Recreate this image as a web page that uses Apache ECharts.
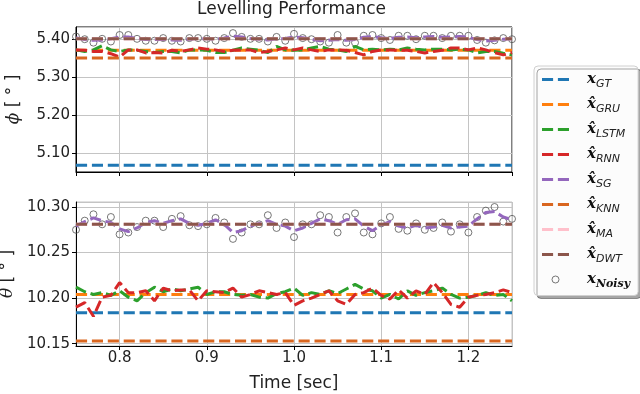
<!DOCTYPE html>
<html>
<head>
<meta charset="utf-8">
<script src="https://cdn.jsdelivr.net/npm/echarts@6/dist/echarts.min.js"></script>
<style>
  html, body { margin: 0; padding: 0; background: #fff; }
  #main { width: 640px; height: 394px; }
</style>
</head>
<body>
<div id="main"></div>
<script>
  // time axis (sec)
  var timeSec = [0.75, 0.76, 0.77, 0.78, 0.79, 0.80, 0.81, 0.82, 0.83, 0.84,
    0.85, 0.86, 0.87, 0.88, 0.89, 0.90, 0.91, 0.92, 0.93, 0.94,
    0.95, 0.96, 0.97, 0.98, 0.99, 1.00, 1.01, 1.02, 1.03, 1.04,
    1.05, 1.06, 1.07, 1.08, 1.09, 1.10, 1.11, 1.12, 1.13, 1.14,
    1.15, 1.16, 1.17, 1.18, 1.19, 1.20, 1.21, 1.22, 1.23, 1.24, 1.25];
  var flatTime = [0.75, 1.25];

  // roll (phi)
  var phiGT = [5.069, 5.069];
  var phiGRU = [5.370, 5.370];
  var phiKNN = [5.350, 5.350];
  var phiMA = [5.400, 5.400];
  var phiDWT = [5.400, 5.400];
  var phiLSTM = [5.371, 5.367, 5.371, 5.382, 5.371, 5.367, 5.371, 5.370, 5.367, 5.364,
    5.367, 5.367, 5.363, 5.371, 5.371, 5.370, 5.364, 5.364, 5.370, 5.376,
    5.373, 5.370, 5.364, 5.380, 5.371, 5.370, 5.371, 5.376, 5.380, 5.373,
    5.371, 5.367, 5.380, 5.371, 5.373, 5.371, 5.373, 5.371, 5.376, 5.373,
    5.371, 5.373, 5.373, 5.371, 5.373, 5.371, 5.363, 5.367, 5.367, 5.362, 5.358];
  var phiRNN = [5.371, 5.370, 5.367, 5.367, 5.361, 5.352, 5.371, 5.371, 5.363, 5.364,
    5.363, 5.370, 5.367, 5.371, 5.376, 5.373, 5.371, 5.367, 5.370, 5.371,
    5.371, 5.364, 5.367, 5.371, 5.376, 5.371, 5.376, 5.371, 5.367, 5.371,
    5.371, 5.370, 5.364, 5.358, 5.367, 5.371, 5.371, 5.370, 5.370, 5.367,
    5.363, 5.367, 5.370, 5.376, 5.376, 5.371, 5.376, 5.371, 5.364, 5.358, 5.364];
  var phiSG = [5.403, 5.398, 5.396, 5.397, 5.400, 5.405, 5.405, 5.401, 5.398, 5.398,
    5.399, 5.397, 5.396, 5.399, 5.401, 5.400, 5.399, 5.402, 5.407, 5.405,
    5.401, 5.399, 5.397, 5.400, 5.401, 5.405, 5.403, 5.399, 5.395, 5.396,
    5.398, 5.396, 5.398, 5.404, 5.406, 5.403, 5.401, 5.404, 5.405, 5.403,
    5.405, 5.406, 5.404, 5.405, 5.406, 5.404, 5.398, 5.394, 5.396, 5.399, 5.400];
  var phiNoisy = [5.406, 5.399, 5.390, 5.400, 5.393, 5.410, 5.410, 5.400, 5.395, 5.395,
    5.402, 5.395, 5.393, 5.402, 5.402, 5.400, 5.395, 5.402, 5.415, 5.405,
    5.400, 5.400, 5.393, 5.405, 5.395, 5.413, 5.402, 5.399, 5.393, 5.390,
    5.410, 5.390, 5.390, 5.408, 5.410, 5.402, 5.397, 5.408, 5.408, 5.399,
    5.408, 5.408, 5.402, 5.408, 5.408, 5.408, 5.397, 5.390, 5.396, 5.402, 5.399];

  // pitch (theta)
  var thetaGT = [10.184, 10.184];
  var thetaGRU = [10.204, 10.204];
  var thetaKNN = [10.153, 10.153];
  var thetaMA = [10.281, 10.281];
  var thetaDWT = [10.281, 10.281];
  var thetaLSTM = [10.212, 10.207, 10.204, 10.206, 10.203, 10.208, 10.201, 10.197, 10.206, 10.212,
    10.207, 10.210, 10.208, 10.210, 10.212, 10.204, 10.207, 10.207, 10.204, 10.203,
    10.204, 10.201, 10.200, 10.205, 10.207, 10.211, 10.203, 10.206, 10.204, 10.208,
    10.205, 10.210, 10.215, 10.210, 10.208, 10.200, 10.204, 10.199, 10.208, 10.203,
    10.206, 10.208, 10.211, 10.204, 10.200, 10.201, 10.203, 10.206, 10.203, 10.204, 10.197];
  var thetaRNN = [10.190, 10.195, 10.180, 10.201, 10.203, 10.217, 10.206, 10.206, 10.208, 10.197,
    10.211, 10.208, 10.209, 10.209, 10.197, 10.208, 10.207, 10.206, 10.211, 10.201,
    10.204, 10.208, 10.206, 10.204, 10.206, 10.192, 10.197, 10.200, 10.204, 10.208,
    10.197, 10.193, 10.204, 10.206, 10.211, 10.203, 10.199, 10.209, 10.200, 10.208,
    10.204, 10.217, 10.206, 10.193, 10.190, 10.201, 10.203, 10.204, 10.206, 10.209, 10.206];
  var thetaSG = [10.279, 10.284, 10.288, 10.285, 10.283, 10.276, 10.273, 10.277, 10.283, 10.285,
    10.282, 10.285, 10.287, 10.282, 10.280, 10.282, 10.286, 10.281, 10.272, 10.274,
    10.279, 10.282, 10.285, 10.281, 10.279, 10.274, 10.277, 10.282, 10.287, 10.285,
    10.281, 10.286, 10.287, 10.279, 10.274, 10.280, 10.284, 10.279, 10.277, 10.280,
    10.277, 10.278, 10.280, 10.277, 10.278, 10.279, 10.287, 10.294, 10.295, 10.289, 10.286];
  var thetaNoisy = [10.275, 10.285, 10.292, 10.281, 10.289, 10.270, 10.272, 10.278, 10.285, 10.285,
    10.278, 10.287, 10.290, 10.280, 10.279, 10.281, 10.288, 10.283, 10.265, 10.272,
    10.281, 10.281, 10.291, 10.277, 10.283, 10.267, 10.281, 10.281, 10.291, 10.289,
    10.272, 10.289, 10.293, 10.272, 10.270, 10.282, 10.289, 10.276, 10.274, 10.282,
    10.275, 10.277, 10.283, 10.273, 10.281, 10.272, 10.289, 10.296, 10.300, 10.284, 10.287];

  var names = ['GT', 'GRU', 'LSTM', 'RNN', 'SG', 'KNN', 'MA', 'DWT', 'Noisy'];
  var colors = {
    GT: '#1f77b4', GRU: '#ff7f0e', LSTM: '#2ca02c', RNN: '#d62728', SG: '#9467bd',
    KNN: '#d9661f', MA: '#ffc0cb', DWT: '#8c564b'
  };
  var legendLabels = {
    GT: '{x|x}{s|GT}', GRU: '{x|x\u0302}{s|GRU}', LSTM: '{x|x\u0302}{s|LSTM}',
    RNN: '{x|x\u0302}{s|RNN}', SG: '{x|x\u0302}{s|SG}', KNN: '{x|x\u0302}{s|KNN}',
    MA: '{x|x\u0302}{s|MA}', DWT: '{x|x\u0302}{s|DWT}', Noisy: '{x|x}{n|Noisy}'
  };
  // two dashes, 27 x 7 box
  var dashIcon = 'path://M0,0L0,0M0,2h11.1v3h-11.1zM15.9,2h11.1v3h-11.1zM27,7L27,7';

  var panels = [
    { t: flatTime, v: phiGT }, { t: flatTime, v: phiGRU }, { t: timeSec, v: phiLSTM },
    { t: timeSec, v: phiRNN }, { t: timeSec, v: phiSG }, { t: flatTime, v: phiKNN },
    { t: flatTime, v: phiMA }, { t: flatTime, v: phiDWT }, { t: timeSec, v: phiNoisy }
  ];
  var panels2 = [
    { t: flatTime, v: thetaGT }, { t: flatTime, v: thetaGRU }, { t: timeSec, v: thetaLSTM },
    { t: timeSec, v: thetaRNN }, { t: timeSec, v: thetaSG }, { t: flatTime, v: thetaKNN },
    { t: flatTime, v: thetaMA }, { t: flatTime, v: thetaDWT }, { t: timeSec, v: thetaNoisy }
  ];

  function pairs(xs, ys) {
    return xs.map(function (x, i) { return [x, ys[i]]; });
  }

  var noisyStyle = { color: 'rgba(255,255,255,0)', borderColor: '#555', borderWidth: 1 };

  var series = [];
  [panels, panels2].forEach(function (set, g) {
    set.forEach(function (d, i) {
      var name = names[i];
      if (name === 'Noisy') {
        series.push({
          name: name, type: 'scatter', xAxisIndex: g, yAxisIndex: g,
          symbol: 'circle', symbolSize: 7,
          itemStyle: noisyStyle,
          data: pairs(d.t, d.v)
        });
      } else {
        series.push({
          name: name, type: 'line', xAxisIndex: g, yAxisIndex: g,
          symbol: 'none', color: colors[name],
          lineStyle: { width: 3, type: [11.1, 4.8], color: colors[name] },
          data: pairs(d.t, d.v)
        });
      }
    });
  });

  function xAxisOf(g) {
    return {
      type: 'value', gridIndex: g, min: 0.75, max: 1.25, splitNumber: 5,
      name: g === 1 ? 'Time [sec]' : '', nameLocation: 'middle', nameGap: 29,
      nameTextStyle: { fontSize: 17, color: '#222', fontFamily: 'DejaVu Sans' },
      axisLine: { show: true, onZero: false, lineStyle: { color: '#000', width: 1 } },
      axisTick: { show: true, length: 4, lineStyle: { color: '#000' } },
      axisLabel: {
        show: g === 1, margin: 5, fontSize: 15, color: '#222', fontFamily: 'DejaVu Sans',
        showMinLabel: false, showMaxLabel: false,
        formatter: function (v) { return v.toFixed(1); }
      },
      splitLine: { show: true, lineStyle: { color: '#c4c4c4', width: 1 } }
    };
  }

  function yAxisOf(g) {
    return {
      type: 'value', gridIndex: g,
      min: g === 0 ? 5.051 : 10.1474, max: g === 0 ? 5.431 : 10.3055,
      splitNumber: g === 0 ? 4 : 3,
      name: g === 0 ? '{i|\u03d5} [ \u00b0 ]' : '{i|\u03b8} [ \u00b0 ]',
      nameLocation: 'middle', nameGap: g === 0 ? 54 : 58,
      nameTextStyle: {
        fontSize: 17, color: '#222', fontFamily: 'DejaVu Sans',
        rich: { i: { fontSize: 17, fontStyle: 'italic', fontFamily: 'DejaVu Serif', color: '#222' } }
      },
      axisLine: { show: true, onZero: false, lineStyle: { color: '#000', width: 1 } },
      axisTick: { show: true, length: 4, lineStyle: { color: '#000' } },
      axisLabel: {
        margin: 6, fontSize: 15, color: '#222', fontFamily: 'DejaVu Sans',
        showMinLabel: false, showMaxLabel: false,
        formatter: function (v) { return v.toFixed(2); }
      },
      splitLine: { show: true, lineStyle: { color: '#c4c4c4', width: 1 } }
    };
  }

  var myChart = echarts.init(document.getElementById('main'), null, { renderer: 'canvas' });

  var option = {
    animation: false,
    backgroundColor: '#fff',
    textStyle: { fontFamily: 'DejaVu Sans' },
    title: {
      text: 'Levelling Performance', left: 197, top: 1, padding: 0,
      textStyle: { fontFamily: 'DejaVu Sans', fontSize: 17, fontWeight: 'normal', color: '#222' }
    },
    grid: [
      { left: 76, top: 27, width: 436, height: 145, show: true, borderColor: '#000', borderWidth: 1,
        containLabel: false, outerBoundsMode: 'none' },
      { left: 76, top: 202, width: 436, height: 144, show: true, borderColor: '#c4c4c4', borderWidth: 1,
        containLabel: false, outerBoundsMode: 'none' }
    ],
    xAxis: [xAxisOf(0), xAxisOf(1)],
    yAxis: [yAxisOf(0), yAxisOf(1)],
    legend: {
      orient: 'vertical', left: 534, top: 66,
      padding: [6, 8, 6, 8], itemGap: 7.5, itemWidth: 27, itemHeight: 7,
      backgroundColor: '#fcfcfc', borderColor: '#d0d0d0', borderWidth: 1, borderRadius: 4,
      shadowColor: 'rgba(0,0,0,0.35)', shadowOffsetX: 3, shadowOffsetY: 3, shadowBlur: 0,
      data: names.map(function (n) {
        if (n === 'Noisy') {
          return { name: n, icon: 'circle', itemStyle: noisyStyle };
        }
        return { name: n, icon: dashIcon, itemStyle: { color: colors[n], borderWidth: 0 } };
      }),
      formatter: function (name) { return legendLabels[name]; },
      textStyle: {
        width: 43, padding: [0, 0, 0, 13],
        rich: {
          x: { fontFamily: 'DejaVu Serif', fontWeight: 'bold', fontStyle: 'italic', fontSize: 15, color: '#111', lineHeight: 20 },
          s: { fontFamily: 'DejaVu Sans', fontStyle: 'italic', fontSize: 11, color: '#222', lineHeight: 8, verticalAlign: 'bottom' },
          n: { fontFamily: 'DejaVu Serif', fontWeight: 'bold', fontStyle: 'italic', fontSize: 11, color: '#111', lineHeight: 8, verticalAlign: 'bottom' }
        }
      }
    },
    series: series
  };

  myChart.setOption(option);
</script>
</body>
</html>
